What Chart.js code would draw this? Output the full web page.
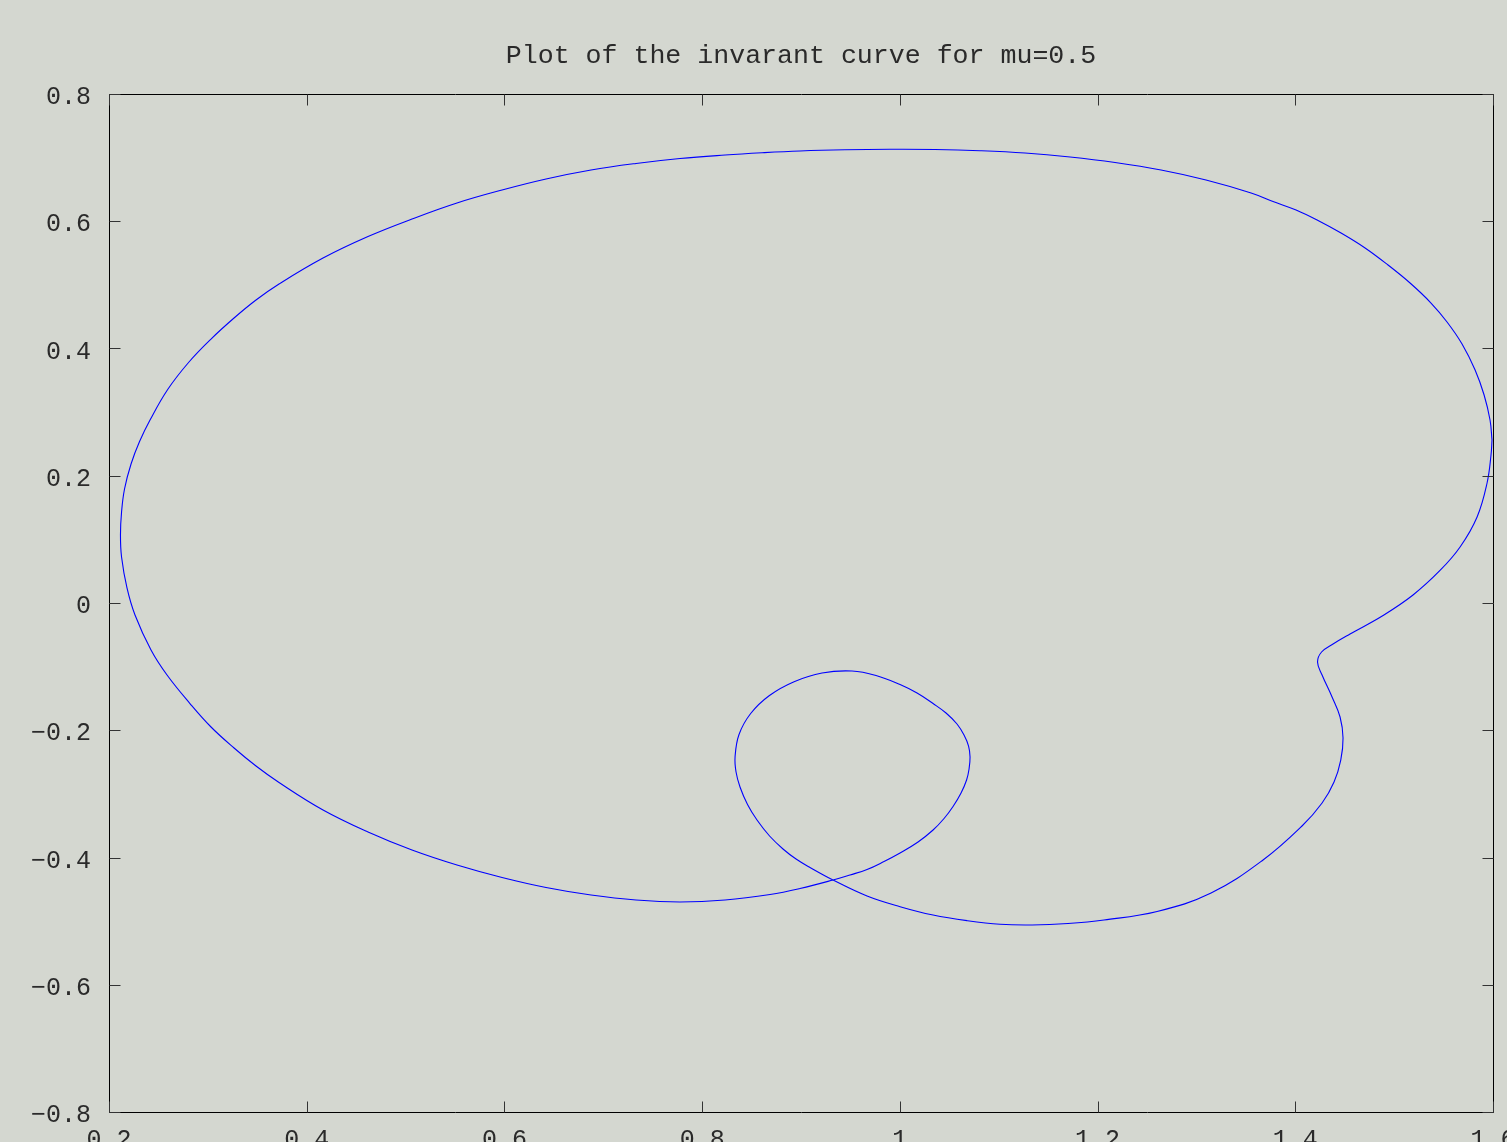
<!DOCTYPE html>
<html>
<head>
<meta charset="utf-8">
<title>Invariant curve</title>
<script src="https://cdn.jsdelivr.net/npm/chart.js@4/dist/chart.umd.min.js"></script>
<style>
  html, body { margin: 0; padding: 0; background: #d4d7d0; overflow: hidden; }
  canvas { display: block; }
</style>
</head>
<body>
<canvas id="c" width="1507" height="1142"></canvas>
<script>
// Invariant curve for mu = 0.5, sampled along the closed orbit
const curveX = [
  1.5990, 1.5970, 1.5910, 1.5819, 1.5687, 1.5535, 1.5373, 1.5161, 1.4938, 1.4706,
  1.4463, 1.4230, 1.4008, 1.3775, 1.3553, 1.3097, 1.2642, 1.2177, 1.1722, 1.1266,
  1.0811, 1.0356, 0.9901, 0.9445, 0.8990, 0.8606, 0.8232, 0.7776, 0.7331, 0.6876,
  0.6421, 0.5976, 0.5520, 0.5065, 0.4620, 0.4165, 0.3720, 0.3487, 0.3265, 0.3032,
  0.2809, 0.2597, 0.2415, 0.2309, 0.2223, 0.2157, 0.2127, 0.2116, 0.2127, 0.2182,
  0.2263, 0.2425, 0.2587, 0.2819, 0.3032, 0.3265, 0.3487, 0.3720, 0.4165, 0.4620,
  0.5065, 0.5520, 0.5976, 0.6421, 0.6876, 0.7331, 0.7776, 0.8232, 0.8687, 0.8990,
  0.9324, 0.9496, 0.9668, 0.9840, 1.0002, 1.0184, 1.0336, 1.0447, 1.0538, 1.0619,
  1.0675, 1.0700, 1.0710, 1.0695, 1.0649, 1.0578, 1.0467, 1.0336, 1.0174, 1.0002,
  0.9759, 0.9516, 0.9213, 0.8930, 0.8681, 0.8491, 0.8373, 0.8333, 0.8343, 0.8383,
  0.8459, 0.8555, 0.8682, 0.8818, 0.8950, 0.9091, 0.9324, 0.9668, 1.0002, 1.0336,
  1.0680, 1.1013, 1.1337, 1.1701, 1.2065, 1.2602, 1.3148, 1.3674, 1.4068, 1.4271,
  1.4392, 1.4460, 1.4483, 1.4453, 1.4372, 1.4271, 1.4225, 1.4266, 1.4382, 1.4554,
  1.4888, 1.5191, 1.5464, 1.5667, 1.5839, 1.5940, 1.5980, 1.5990
];
const curveY = [
  0.2562, 0.2876, 0.3269, 0.3662, 0.4071, 0.4417, 0.4715, 0.5029, 0.5312, 0.5580,
  0.5815, 0.6012, 0.6177, 0.6310, 0.6444, 0.6648, 0.6805, 0.6923, 0.7010, 0.7073,
  0.7109, 0.7128, 0.7131, 0.7123, 0.7104, 0.7076, 0.7041, 0.6986, 0.6908, 0.6805,
  0.6664, 0.6491, 0.6287, 0.6035, 0.5760, 0.5422, 0.5014, 0.4762, 0.4479, 0.4149,
  0.3788, 0.3363, 0.2876, 0.2537, 0.2185, 0.1792, 0.1430, 0.1069, 0.0723, 0.0236,
  -0.0189, -0.0739, -0.1132, -0.1580, -0.1949, -0.2279, -0.2562, -0.2821, -0.3253, -0.3599,
  -0.3882, -0.4118, -0.4314, -0.4471, -0.4589, -0.4668, -0.4699, -0.4668, -0.4581, -0.4487,
  -0.4354, -0.4275, -0.4189, -0.4063, -0.3929, -0.3756, -0.3568, -0.3387, -0.3198, -0.2986,
  -0.2782, -0.2609, -0.2420, -0.2248, -0.2075, -0.1902, -0.1729, -0.1580, -0.1415, -0.1281,
  -0.1139, -0.1069, -0.1100, -0.1237, -0.1454, -0.1737, -0.2067, -0.2420, -0.2656, -0.2892,
  -0.3167, -0.3411, -0.3662, -0.3866, -0.4024, -0.4157, -0.4354, -0.4605, -0.4773, -0.4904,
  -0.4993, -0.5050, -0.5061, -0.5037, -0.4982, -0.4849, -0.4558, -0.4039, -0.3505, -0.3143,
  -0.2813, -0.2468, -0.2122, -0.1792, -0.1477, -0.1132, -0.0927, -0.0770, -0.0644, -0.0487,
  -0.0196, 0.0126, 0.0511, 0.0880, 0.1352, 0.1886, 0.2326, 0.2562
];

// Axis ticks
const xTickValues = [0.2, 0.4, 0.6, 0.8, 1.0, 1.2, 1.4, 1.6];
const xTickLabels = ['0.2', '0.4', '0.6', '0.8', '1', '1.2', '1.4', '1.6'];
const yTickValues = [-0.8, -0.6, -0.4, -0.2, 0, 0.2, 0.4, 0.6, 0.8];
const yTickLabels = ['\u22120.8', '\u22120.6', '\u22120.4', '\u22120.2', '0', '0.2', '0.4', '0.6', '0.8'];

const titleText = 'Plot of the invarant curve for mu=0.5';

const MONO = '"Liberation Mono", "DejaVu Sans Mono", monospace';
const INK = '#2a2a2a';

// Title, boxed axes with inward ticks on all four sides, and tick labels
const boxedAxes = {
  id: 'boxedAxes',
  afterDraw(chart) {
    const { ctx, chartArea: a, scales } = chart;
    const xs = scales.x, ys = scales.y;
    const L = a.left + 0.5, R = a.right + 0.5, T = a.top + 0.5, B = a.bottom + 0.5;
    const tickLen = 11;
    ctx.save();

    ctx.fillStyle = INK;
    ctx.font = '26.6px ' + MONO;
    ctx.textAlign = 'center';
    ctx.textBaseline = 'alphabetic';
    ctx.fillText(titleText, (a.left + a.right) / 2, 63);

    ctx.lineWidth = 1;
    ctx.strokeStyle = '#000';
    ctx.beginPath();
    ctx.moveTo(L, T); ctx.lineTo(R, T); ctx.lineTo(R, B); ctx.lineTo(L, B); ctx.closePath();
    ctx.stroke();

    ctx.strokeStyle = '#333';
    ctx.beginPath();
    xTickValues.forEach(v => {
      const px = Math.round(xs.getPixelForValue(v)) + 0.5;
      ctx.moveTo(px, B); ctx.lineTo(px, B - tickLen);
      ctx.moveTo(px, T); ctx.lineTo(px, T + tickLen);
    });
    yTickValues.forEach(v => {
      const py = Math.round(ys.getPixelForValue(v)) + 0.5;
      ctx.moveTo(L, py); ctx.lineTo(L + tickLen, py);
      ctx.moveTo(R, py); ctx.lineTo(R - tickLen, py);
    });
    ctx.stroke();

    ctx.font = '25px ' + MONO;
    ctx.textAlign = 'right';
    yTickValues.forEach((v, i) => {
      const py = ys.getPixelForValue(v);
      ctx.fillText(yTickLabels[i], a.left - 18, py + 10);
    });
    ctx.textAlign = 'center';
    xTickValues.forEach((v, i) => {
      const px = xs.getPixelForValue(v);
      ctx.fillText(xTickLabels[i], px, a.bottom + 35);
    });
    ctx.restore();
  }
};

const points = curveX.map((x, i) => ({ x, y: curveY[i] }));

new Chart(document.getElementById('c'), {
  type: 'line',
  data: {
    datasets: [{
      data: points,
      borderColor: '#0000ff',
      borderWidth: 1.1,
      pointRadius: 0,
      fill: false,
      tension: 0.4
    }]
  },
  options: {
    responsive: false,
    animation: false,
    events: [],
    layout: { padding: { left: 0, right: 14, top: 94, bottom: 0 } },
    plugins: {
      legend: { display: false },
      tooltip: { enabled: false },
      title: { display: false }
    },
    scales: {
      x: {
        type: 'linear',
        min: 0.2, max: 1.6,
        grid: { display: false, drawTicks: false },
        border: { display: false },
        ticks: { display: false, stepSize: 0.2 },
        afterFit(scale) { scale.height = 30; }
      },
      y: {
        type: 'linear',
        min: -0.8, max: 0.8,
        grid: { display: false, drawTicks: false },
        border: { display: false },
        ticks: { display: false, stepSize: 0.2 },
        afterFit(scale) { scale.width = 109; }
      }
    }
  },
  plugins: [boxedAxes]
});
</script>
</body>
</html>
